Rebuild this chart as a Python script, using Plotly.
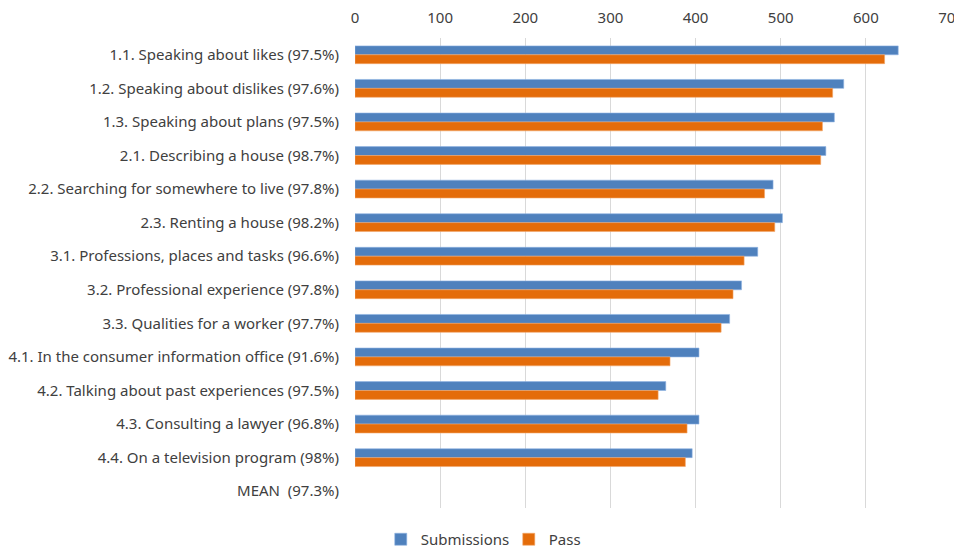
import plotly.graph_objects as go

categories = [
    "1.1. Speaking about likes (97.5%)",
    "1.2. Speaking about dislikes (97.6%)",
    "1.3. Speaking about plans (97.5%)",
    "2.1. Describing a house (98.7%)",
    "2.2. Searching for somewhere to live (97.8%)",
    "2.3. Renting a house (98.2%)",
    "3.1. Professions, places and tasks (96.6%)",
    "3.2. Professional experience (97.8%)",
    "3.3. Qualities for a worker (97.7%)",
    "4.1. In the consumer information office (91.6%)",
    "4.2. Talking about past experiences (97.5%)",
    "4.3. Consulting a lawyer (96.8%)",
    "4.4. On a television program (98%)",
    "MEAN\u00a0 (97.3%)",
]
submissions = [638, 574, 563, 553, 491, 502, 473, 454, 440, 404, 365, 404, 396, None]
passes = [622, 561, 549, 547, 481, 493, 457, 444, 430, 370, 356, 390, 388, None]
x_ticks = [0, 100, 200, 300, 400, 500, 600, 700]

fig = go.Figure()
fig.add_trace(go.Bar(y=categories, x=submissions, name="Submissions", orientation="h",
                     marker=dict(color="#4F81BD", line=dict(color="#8EB4E3", width=0.6))))
fig.add_trace(go.Bar(y=categories, x=passes, name="Pass", orientation="h",
                     marker=dict(color="#E46C0A", line=dict(color="#F2A66A", width=0.6))))

fig.update_layout(
    width=962, height=560,
    margin=dict(l=347, r=19, t=30, b=54),
    paper_bgcolor="white", plot_bgcolor="white",
    font=dict(family="Noto Sans", size=15, color="#404040"),
    barmode="group", bargap=0.47, bargroupgap=0,
    legend=dict(orientation="h", x=0.258, xanchor="center", y=-0.067, yanchor="middle",
                font=dict(size=15, color="#404040"), itemwidth=30, tracegroupgap=0,
                entrywidth=83, entrywidthmode="pixels"),
    xaxis=dict(side="top", range=[0, 700], tickvals=x_ticks, showgrid=True,
               gridcolor="#D9D9D9", gridwidth=1, zeroline=False, showline=False,
               ticks="outside", ticklen=8, tickcolor="rgba(0,0,0,0)", automargin=False,
               ticklabeloverflow="allow"),
    yaxis=dict(autorange="reversed", showgrid=False, showline=False, zeroline=False,
               ticks="outside", ticklen=12, tickcolor="rgba(0,0,0,0)", automargin=False),
)

fig.write_html("out.html")
